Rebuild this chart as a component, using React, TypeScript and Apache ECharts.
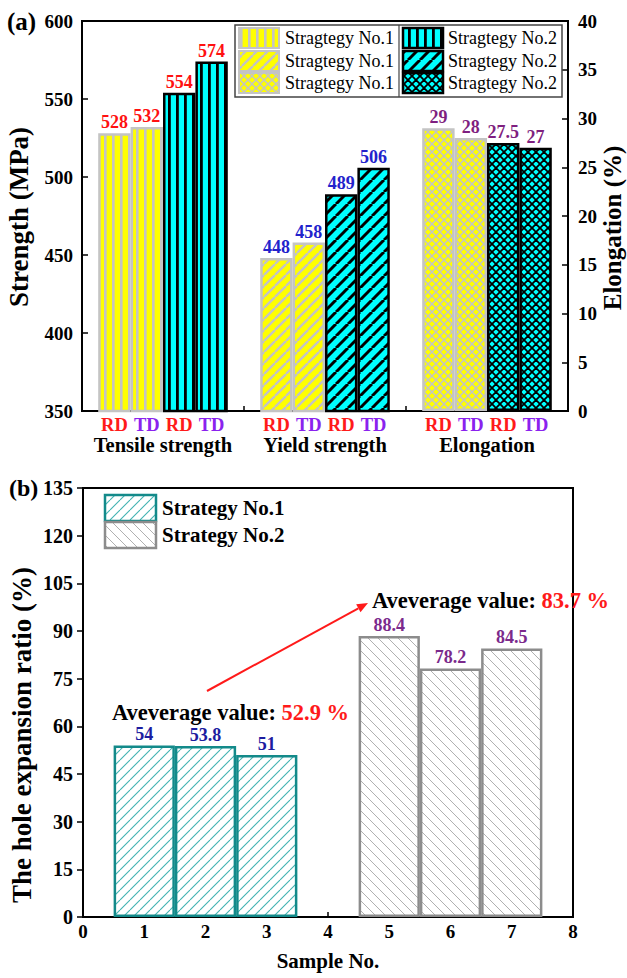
import React, { useEffect, useRef } from 'react';
import * as echarts from 'echarts';

const FONT = 'Liberation Serif';

// ---------- Panel (a) data ----------
const groupNames = ['Tensile strength', 'Yield strength', 'Elongation'];
const tickLabelsA = ['', 'RD', 'TD', 'RD', 'TD', '', 'RD', 'TD', 'RD', 'TD', '', 'RD', 'TD', 'RD', 'TD', ''];
const legendNamesA = ['Stragtegy No.1', 'Stragtegy No.2'];
const tensileS1 = [528, 532];
const tensileS2 = [554, 574];
const yieldS1 = [448, 458];
const yieldS2 = [489, 506];
const elongS1 = [29, 28];
const elongS2 = [27.5, 27];
const tensileSlotsS1 = [1, 2];
const tensileSlotsS2 = [3, 4];
const yieldSlotsS1 = [6, 7];
const yieldSlotsS2 = [8, 9];
const elongSlotsS1 = [11, 12];
const elongSlotsS2 = [13, 14];
const titleStrength = 'Strength (MPa)';
const titleElong = 'Elongation (%)';

// ---------- Panel (b) data ----------
const legendNamesB = ['Strategy No.1', 'Strategy No.2'];
const samplesS1 = [1, 2, 3];
const holeS1 = [54, 53.8, 51];
const samplesS2 = [5, 6, 7];
const holeS2 = [88.4, 78.2, 84.5];
const avgText = 'Aveverage value: ';
const avgS1 = '52.9 %';
const avgS2 = '83.7 %';
const titleHole = 'The hole expansion ratio (%)';

const W = 627;
const H = 978;
const GA = { left: 82, right: 59, top: 21, height: 390 };
const GB = { left: 83, right: 54, top: 488, height: 429 };

type Draw = (ctx: CanvasRenderingContext2D, w: number, h: number) => void;
function tile(w: number, h: number, draw: Draw) {
  const c = document.createElement('canvas');
  c.width = w;
  c.height = h;
  const ctx = c.getContext('2d')!;
  draw(ctx, w, h);
  return { image: c, repeat: 'repeat', imageWidth: w, imageHeight: h } as any;
}
function vertical(bg: string, fg: string, s: number, lw: number) {
  return tile(s, s, (ctx, w, h) => {
    ctx.fillStyle = bg;
    ctx.fillRect(0, 0, w, h);
    ctx.fillStyle = fg;
    ctx.fillRect(0, 0, lw, h);
  });
}
function diag(bg: string, fg: string, s: number, lw: number, dir: 1 | -1) {
  return tile(s, s, (ctx, w, h) => {
    ctx.fillStyle = bg;
    ctx.fillRect(0, 0, w, h);
    ctx.strokeStyle = fg;
    ctx.lineWidth = lw;
    for (let k = -1; k <= 1; k++) {
      ctx.beginPath();
      if (dir === 1) {
        ctx.moveTo(k * s, s);
        ctx.lineTo(k * s + s, 0);
      } else {
        ctx.moveTo(k * s, 0);
        ctx.lineTo(k * s + s, s);
      }
      ctx.stroke();
    }
  });
}
function cross(bg: string, fg: string, s: number, lw: number) {
  return tile(s, s, (ctx, w, h) => {
    ctx.fillStyle = bg;
    ctx.fillRect(0, 0, w, h);
    ctx.strokeStyle = fg;
    ctx.lineWidth = lw;
    for (let k = -1; k <= 1; k++) {
      ctx.beginPath();
      ctx.moveTo(k * s, s);
      ctx.lineTo(k * s + s, 0);
      ctx.stroke();
      ctx.beginPath();
      ctx.moveTo(k * s, 0);
      ctx.lineTo(k * s + s, s);
      ctx.stroke();
    }
  });
}

export default function App() {
  const ref = useRef<HTMLDivElement>(null);
  useEffect(() => {
    if (!ref.current) return;
    const chart = echarts.init(ref.current, undefined, { renderer: 'svg' });

    const YEL = '#ffff00';
    const CYA = '#00ffff';
    const GRY = '#c4c4c4';
    const TEAL = '#138a8a';
    const pVY = vertical(YEL, GRY, 8, 2.6);
    const pVC = vertical(CYA, '#000', 8, 2.8);
    const pDY = diag(YEL, GRY, 11, 2.4, 1);
    const pDC = diag(CYA, '#000', 12, 3, 1);
    const pXY = cross(YEL, GRY, 8, 1.5);
    const pXC = cross(CYA, '#000', 8, 1.8);
    const pB1 = diag('#ffffff', '#3fb2b2', 10, 1.1, 1);
    const pB2 = diag('#ffffff', '#b0b0b0', 10, 1, -1);

    const bwA = (W - GA.left - GA.right) / 15;
    const bwB = (W - GB.left - GB.right) / 8;

    const lbl = (color: string) => ({
      show: true,
      position: 'top',
      distance: 2,
      color,
      fontFamily: FONT,
      fontWeight: 'bold',
      fontSize: 18,
      formatter: (p: any) => String(p.value[1]),
    });

    const bar = (
      xs: number[], ys: number[], xi: number, yi: number, bw: number,
      fill: any, border: string, bwid: number, labelColor: string
    ) => ({
      type: 'bar',
      xAxisIndex: xi,
      yAxisIndex: yi,
      data: xs.map((x, i) => [x, ys[i]]),
      barWidth: bw,
      barGap: '-100%',
      itemStyle: { color: fill, borderColor: border, borderWidth: bwid },
      label: lbl(labelColor),
      emphasis: { disabled: true },
    });

    const RED = '#ff1111';
    const BLUE = '#2222cc';
    const PURP = '#7f1f80';

    const axisLabelStyle = { fontFamily: FONT, fontWeight: 'bold', fontSize: 19, color: '#000' };
    const axisLine = { show: true, lineStyle: { color: '#000', width: 2 } };

    const legendA: any[] = [];
    const box = { x: 235, y: 25, w: 327, h: 72 };
    legendA.push({
      type: 'rect',
      shape: { x: box.x, y: box.y, width: box.w, height: box.h },
      style: { fill: '#fff', stroke: '#444', lineWidth: 1.5 },
      z: 100,
    });
    legendA.push({
      type: 'line',
      shape: { x1: 399, y1: box.y, x2: 399, y2: box.y + box.h },
      style: { stroke: '#444', lineWidth: 1.2 },
      z: 101,
    });
    const rowsA = [28, 51, 73];
    const pats1 = [pVY, pDY, pXY];
    const pats2 = [pVC, pDC, pXC];
    rowsA.forEach((ry, i) => {
      legendA.push({
        type: 'rect',
        shape: { x: 239, y: ry, width: 40, height: 20 },
        style: { fill: pats1[i], stroke: GRY, lineWidth: 2 },
        z: 102,
      });
      legendA.push({
        type: 'text',
        style: { x: 285, y: ry + 10, text: legendNamesA[0], fontFamily: FONT, fontSize: 18, fill: '#000', verticalAlign: 'middle' },
        z: 102,
      });
      legendA.push({
        type: 'rect',
        shape: { x: 403, y: ry, width: 40, height: 20 },
        style: { fill: pats2[i], stroke: '#000', lineWidth: 2.5 },
        z: 102,
      });
      legendA.push({
        type: 'text',
        style: { x: 448, y: ry + 10, text: legendNamesA[1], fontFamily: FONT, fontSize: 18, fill: '#000', verticalAlign: 'middle' },
        z: 102,
      });
    });

    const legendB: any[] = [
      {
        type: 'rect',
        shape: { x: 105, y: 495, width: 51, height: 26 },
        style: { fill: pB1, stroke: TEAL, lineWidth: 2.5 },
        z: 102,
      },
      {
        type: 'text',
        style: { x: 162, y: 508, text: legendNamesB[0], fontFamily: FONT, fontWeight: 'bold', fontSize: 21, fill: '#000', verticalAlign: 'middle' },
        z: 102,
      },
      {
        type: 'rect',
        shape: { x: 105, y: 522, width: 51, height: 26 },
        style: { fill: pB2, stroke: '#8c8c8c', lineWidth: 2.5 },
        z: 102,
      },
      {
        type: 'text',
        style: { x: 162, y: 535, text: legendNamesB[1], fontFamily: FONT, fontWeight: 'bold', fontSize: 21, fill: '#000', verticalAlign: 'middle' },
        z: 102,
      },
    ];

    const richAvg = {
      k: { fontFamily: FONT, fontWeight: 'bold', fontSize: 22.5, fill: '#000', color: '#000' },
      v: { fontFamily: FONT, fontWeight: 'bold', fontSize: 22.5, fill: '#ff1a1a', color: '#ff1a1a' },
    };

    const vTitle = (text: string, cx: number, cy: number, size: number) => ({
      type: 'text',
      x: cx,
      y: cy,
      rotation: Math.PI / 2,
      style: { x: 0, y: 0, text, fontFamily: FONT, fontWeight: 'bold', fontSize: size, fill: '#000', align: 'center', verticalAlign: 'middle' },
      z: 102,
    });

    const tip = [368, 603];
    const tail = [207, 691];
    const dx = tip[0] - tail[0];
    const dy = tip[1] - tail[1];
    const len = Math.sqrt(dx * dx + dy * dy);
    const ux = dx / len, uy = dy / len;
    const hl = 11, hw = 4.5;
    const bx = tip[0] - hl * ux, by = tip[1] - hl * uy;

    const option: any = {
      animation: false,
      backgroundColor: '#fff',
      grid: [
        { left: GA.left, right: GA.right, top: GA.top, height: GA.height, show: true, borderColor: '#000', borderWidth: 2, backgroundColor: 'transparent' },
        { left: GB.left, right: GB.right, top: GB.top, height: GB.height, show: true, borderColor: '#000', borderWidth: 2, backgroundColor: 'transparent' },
      ],
      xAxis: [
        {
          type: 'value', gridIndex: 0, min: 0, max: 15, interval: 1,
          axisLine,
          axisTick: { show: true, inside: true, length: 5, lineStyle: { color: '#000', width: 1.5 } },
          splitLine: { show: false },
          axisLabel: {
            margin: 4,
            formatter: (v: number) => {
              const s = tickLabelsA[Math.round(v)] || '';
              return s ? `{${s.toLowerCase()}|${s}}` : '';
            },
            rich: {
              rd: { color: '#ff1a1a', fontFamily: FONT, fontWeight: 'bold', fontSize: 18.5 },
              td: { color: '#8a22ee', fontFamily: FONT, fontWeight: 'bold', fontSize: 18.5 },
            },
          },
        },
        {
          type: 'category', gridIndex: 0, data: groupNames, position: 'bottom', offset: 16,
          axisLine: { show: false }, axisTick: { show: false }, splitLine: { show: false },
          axisLabel: { interval: 0, margin: 7, fontFamily: FONT, fontWeight: 'bold', fontSize: 20.5, color: '#000' },
        },
        {
          type: 'value', gridIndex: 1, min: 0, max: 8, interval: 1,
          axisLine,
          axisTick: { show: true, inside: true, length: 5, lineStyle: { color: '#000', width: 1.5 } },
          splitLine: { show: false },
          axisLabel: { margin: 5, ...axisLabelStyle },
          name: 'Sample No.', nameLocation: 'middle', nameGap: 33,
          nameTextStyle: { fontFamily: FONT, fontWeight: 'bold', fontSize: 21, color: '#000' },
        },
      ],
      yAxis: [
        {
          type: 'value', gridIndex: 0, min: 350, max: 600, interval: 50,
          axisLine,
          axisTick: { show: true, inside: true, length: 6, lineStyle: { color: '#000', width: 1.5 } },
          splitLine: { show: false },
          axisLabel: { margin: 9, ...axisLabelStyle },
        },
        {
          type: 'value', gridIndex: 0, min: 0, max: 40, interval: 5, position: 'right',
          axisLine,
          axisTick: { show: true, inside: true, length: 6, lineStyle: { color: '#000', width: 1.5 } },
          splitLine: { show: false },
          axisLabel: { margin: 10, ...axisLabelStyle },
        },
        {
          type: 'value', gridIndex: 1, min: 0, max: 135, interval: 15,
          axisLine,
          axisTick: { show: true, inside: false, length: 6, lineStyle: { color: '#000', width: 1.5 } },
          splitLine: { show: false },
          axisLabel: { margin: 10, ...axisLabelStyle, fontSize: 20 },
        },
      ],
      series: [
        bar(tensileSlotsS1, tensileS1, 0, 0, bwA, pVY, GRY, 2.5, RED),
        bar(tensileSlotsS2, tensileS2, 0, 0, bwA, pVC, '#000', 2.5, RED),
        bar(yieldSlotsS1, yieldS1, 0, 0, bwA, pDY, GRY, 2.5, BLUE),
        bar(yieldSlotsS2, yieldS2, 0, 0, bwA, pDC, '#000', 2.5, BLUE),
        bar(elongSlotsS1, elongS1, 0, 1, bwA, pXY, GRY, 2.5, PURP),
        bar(elongSlotsS2, elongS2, 0, 1, bwA, pXC, '#000', 2.5, PURP),
        bar(samplesS1, holeS1, 2, 2, bwB, pB1, TEAL, 2.5, '#1c1ca0'),
        bar(samplesS2, holeS2, 2, 2, bwB, pB2, '#8c8c8c', 2.5, '#7b2a8c'),
      ],
      graphic: [
        {
          type: 'text',
          style: { x: 7, y: 9, text: '(a)', fontFamily: FONT, fontWeight: 'bold', fontSize: 25, fill: '#000' },
        },
        {
          type: 'text',
          style: { x: 9, y: 476, text: '(b)', fontFamily: FONT, fontWeight: 'bold', fontSize: 24, fill: '#000' },
        },
        vTitle(titleStrength, 19, 217, 27),
        vTitle(titleElong, 612, 228, 25),
        vTitle(titleHole, 22, 735, 27),
        ...legendA,
        ...legendB,
        {
          type: 'text',
          style: { x: 112, y: 712, text: `{k|${avgText}}{v|${avgS1}}`, rich: richAvg, verticalAlign: 'middle' },
          z: 102,
        },
        {
          type: 'text',
          style: { x: 372, y: 600, text: `{k|${avgText}}{v|${avgS2}}`, rich: richAvg, verticalAlign: 'middle' },
          z: 102,
        },
        {
          type: 'line',
          shape: { x1: tail[0], y1: tail[1], x2: bx, y2: by },
          style: { stroke: '#ff1a1a', lineWidth: 2 },
          z: 102,
        },
        {
          type: 'polygon',
          shape: { points: [tip, [bx + hw * uy, by - hw * ux], [bx - hw * uy, by + hw * ux]] },
          style: { fill: '#ff1a1a' },
          z: 102,
        },
      ],
    };
    chart.setOption(option);
    return () => chart.dispose();
  }, []);
  return <div ref={ref} style={{ position: 'absolute', left: 0, top: 0, width: W, height: H }} />;
}
